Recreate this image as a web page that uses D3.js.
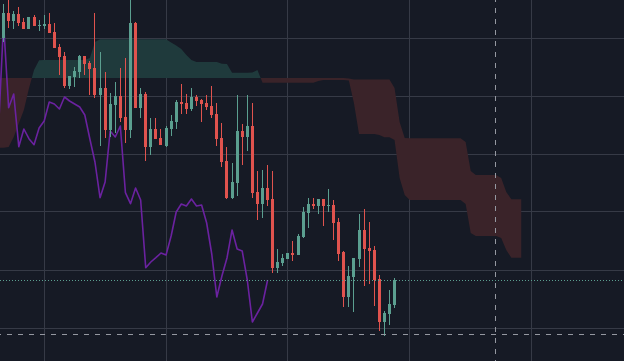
<!DOCTYPE html>
<html><head><meta charset="utf-8">
<script src="https://cdn.jsdelivr.net/npm/d3@7"></script>
<style>html,body{margin:0;padding:0;background:#161a25;overflow:hidden}svg{display:block}</style>
</head><body><svg id="c" width="624" height="361"></svg>
<script>
// ---- data (bar index 0..77) ----
const opens=[362.3,387,379.3,386,378,371.3,383,374.7,374.3,376,
368,353,344,314.3,323,328.3,344,337.3,332,305.3,
312,270.3,295.3,304,283.3,270.3,377.3,292.3,306,253.3,
271,262,254.3,271,278.3,298,297,291,303,300,
297,294,286,262,239,202.3,217,269,263,274,
208,196.3,212,201,132.3,137,141,147,145,163,
187.3,196,194,201,194.7,195,178,148,103,123,
141,170,152,150,121,78,86,95];
const highs=[396,400,389,393,382,383,385,380,385,387,
377,356,348,324,333.3,345.3,344,339.3,387,348,
328,307,318,332,342,400,378,312,308,282.3,
282.3,271,274,285,300,316,306,312,305,301,
305,314,297,277,253,237,305,276,305,297,
229,230,235,229,151,146,147,159,166,193,
202,202,201,201,211,200,182,149,134,142,
186,191,178,154,125,89,110,122];
const lows=[358,372.3,371.3,374.3,371.3,371.3,374.3,369,371.3,367.3,
352.3,325.3,312,311,313.3,322.3,325,305.3,302,254.3,
262.3,263.3,267,278.3,257.3,262.3,292.3,282.3,239.3,245.3,
261.3,255.3,253.3,264,271.3,286.3,286.3,289,294,278,
290,282,254,233,201.5,201,204,235,249,202.3,
180.3,182.3,194,127.3,127.3,134.3,141,139,145,162,
172,191,186,174,188,160,139,93,93,88,
133,114,116,94,69,64,75,92];
const closes=[387,379.3,386,377.3,371.3,383,374.3,375,376,367.3,
352.3,343.3,314.3,324,329.3,344,336.3,331.3,305.3,312,
270.3,296,304,282.3,270.3,377.3,292.3,306,253.3,271,
261.3,255.3,272,279,298,296,291,303,299,296,
293,285,261,238,202.3,218,269,263,274,207.3,
196.3,212,200,132.3,138,142.3,147,145,164,188,
196,194,201,194,195,177,146,103,124,142,
170,151,149,120,78,87,96,120];

// Ichimoku leading spans, bar index -1 .. 102 (already displaced forward)
const spanStart=-1;
const spanA=[252.3,252.3,253,263,276.5,290,311.5,330,339.7,
340,340,340,340,340,340,340,340,340,
342,358,
360.7,360.7,360.7,360.7,360.7,360.7,360.7,360.7,360.7,360.7,360.7,360.7,360.7,360.7,
357.5,354.5,351,345,340,
338,338,338,338,338,
336.3,336,
327.3,327.3,327.3,327.3,
327.5,330,
317.3,317.3,317.3,317.3,317.3,317.3,317.3,317.3,317.3,317.3,317.3,
319,
320,320,320,320,320,
319.5,297,
266,266,266,266,
265,262.7,262.7,260,222,205,
200,200,200,200,200,200,200,200,200,200,200,
196,167,
164,164,164,164,164,
162,150,
142.3,142.3,142.3];
const spanB=[322,322,322,322,322,322,322,322,322,322,
322,322,322,322,322,322,322,322,322,322,
322,322,322,322,322,322,322,322,322,322,
322,322,322,322,322,322,322,322,322,322,
322,322,322,322,322,322,322,322,322,322,
322,322,322,322,322,322,322,322,322,322,
322,322,322,322,322,322,322,322,322,
321.5,
320.5,320.5,320.5,320.5,320.5,320.5,320.5,320.5,
312,278,262,
261.7,261.7,261.7,261.7,261.7,261.7,261.7,261.7,261.7,261.7,261.7,
258,229,
225,225,225,225,225,
222,208,
200.7,200.7,200.7];
const chikouShift=25;
const gridPriceTicks=[362,304,246,188,130,72];
const gridBarTicks=[8,32,56,80,104];
const crosshair={bar:96.8, price:66};

// ---- styles ----
const C={bg:"#161a25",grid:"#363a46",up:"#5b9f90",down:"#e0534e",
  cloudUp:"#1f3a3c",cloudDown:"#3a2329",chikou:"#6b22a0",cross:"#9598a1"};

const W=624,H=361;
const svg=d3.select("#c");
const x=d3.scaleLinear().domain([0,77]).range([3.55,394.55]);
const y=d3.scaleLinear().domain([400,39]).range([0,361]);
const crisp=v=>Math.floor(v)+0.5;

svg.append("rect").attr("width",W).attr("height",H).attr("fill",C.bg);

// grid
const g=svg.append("g").attr("stroke",C.grid).attr("stroke-width",1);
g.selectAll("line.h").data(gridPriceTicks).join("line").attr("class","h")
  .attr("x1",0).attr("x2",W).attr("y1",d=>crisp(y(d))).attr("y2",d=>crisp(y(d)));
g.selectAll("line.v").data(gridBarTicks).join("line").attr("class","v")
  .attr("y1",0).attr("y2",H).attr("x1",d=>crisp(x(d))).attr("x2",d=>crisp(x(d)));

// cloud
const cloud=spanA.map((a,k)=>({i:k+spanStart,a:a,b:spanB[k]}));
const defs=svg.append("defs");
defs.append("clipPath").attr("id","belowA").append("path")
  .attr("d",d3.area().x(d=>x(d.i)).y0(H).y1(d=>y(d.a))(cloud));
defs.append("clipPath").attr("id","aboveA").append("path")
  .attr("d",d3.area().x(d=>x(d.i)).y0(0).y1(d=>y(d.a))(cloud));
svg.append("path").attr("clip-path","url(#belowA)").attr("fill",C.cloudUp)
  .attr("d",d3.area().x(d=>x(d.i)).y0(0).y1(d=>y(d.b))(cloud));
svg.append("path").attr("clip-path","url(#aboveA)").attr("fill",C.cloudDown)
  .attr("d",d3.area().x(d=>x(d.i)).y0(H).y1(d=>y(d.b))(cloud));

// lagging span (close displaced back)
const chikou=closes.map((c,i)=>({i:i-chikouShift,v:c})).filter(d=>d.i>=-2);
svg.append("path").attr("fill","none").attr("stroke",C.chikou).attr("stroke-width",1.6)
  .attr("stroke-linejoin","round")
  .attr("d",d3.line().x(d=>x(d.i)).y(d=>y(d.v))(chikou));

// candles
const bars=closes.map((c,i)=>({i,o:opens[i],h:highs[i],l:lows[i],c}));
const cg=svg.append("g").attr("shape-rendering","crispEdges");
cg.selectAll("line").data(bars).join("line")
  .attr("x1",d=>crisp(x(d.i))).attr("x2",d=>crisp(x(d.i)))
  .attr("y1",d=>y(d.h)).attr("y2",d=>y(d.l))
  .attr("stroke",d=>d.c>=d.o?C.up:C.down).attr("stroke-width",1);
cg.selectAll("rect").data(bars).join("rect")
  .attr("x",d=>Math.floor(x(d.i))-1).attr("width",3)
  .attr("y",d=>y(Math.max(d.o,d.c)))
  .attr("height",d=>Math.max(1,Math.abs(y(d.o)-y(d.c))))
  .attr("fill",d=>d.c>=d.o?C.up:C.down);

// last price line
const last=closes[closes.length-1];
svg.append("line").attr("x1",0).attr("x2",W)
  .attr("y1",crisp(y(last))).attr("y2",crisp(y(last)))
  .attr("stroke",C.up).attr("stroke-width",1).attr("stroke-dasharray","1,2");

// crosshair
svg.append("line").attr("x1",0).attr("x2",W)
  .attr("y1",crisp(y(crosshair.price))).attr("y2",crisp(y(crosshair.price)))
  .attr("stroke",C.cross).attr("stroke-width",1).attr("stroke-dasharray","5,6")
  .attr("stroke-dashoffset",4);
svg.append("line").attr("y1",0).attr("y2",H)
  .attr("x1",crisp(x(crosshair.bar))).attr("x2",crisp(x(crosshair.bar)))
  .attr("stroke",C.cross).attr("stroke-width",1).attr("stroke-dasharray","5,6")
  .attr("stroke-dashoffset",3);
</script></body></html>
